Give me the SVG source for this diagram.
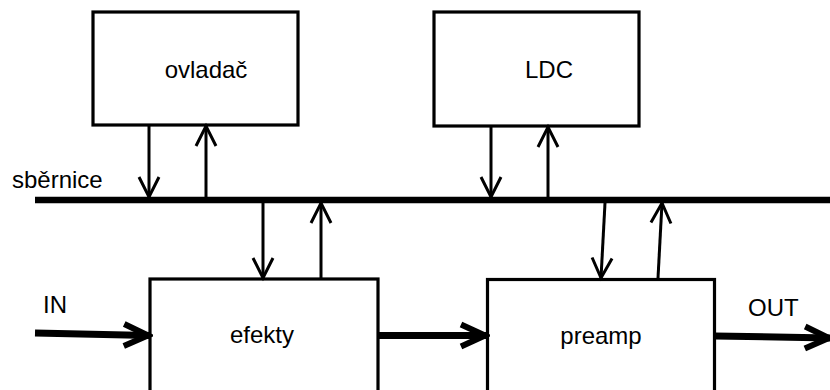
<svg xmlns="http://www.w3.org/2000/svg" width="830" height="390" viewBox="0 0 830 390">
<style>
.box{fill:#fff;stroke:#000;stroke-width:3.2}
.lbl{font-family:"Liberation Sans",Arial,sans-serif;font-size:24px;fill:#000}
.thin{stroke:#000;stroke-width:3;fill:none;marker-end:url(#ah)}
.thick{stroke:#000;stroke-width:7;fill:none;marker-end:url(#ahb)}
.bus{stroke:#000;stroke-width:6.5}
</style>
<defs>
<marker id="ah" markerUnits="userSpaceOnUse" viewBox="-24 -14 28 28" markerWidth="28" markerHeight="28" refX="0" refY="0" orient="auto">
<path d="M-20,-10 L0,0 L-20,10" fill="none" stroke="#000" stroke-width="3"/>
</marker>
<marker id="ahb" markerUnits="userSpaceOnUse" viewBox="-30 -16 34 32" markerWidth="34" markerHeight="32" refX="0" refY="0" orient="auto">
<path d="M-25,-11 L-1,0 L-25,11" fill="none" stroke="#000" stroke-width="6"/>
</marker>
</defs>
<rect width="830" height="390" fill="#fff"/>
<g id="ovladac">
<rect class="box" x="93" y="12" width="205" height="113"/>
<text class="lbl" x="206" y="78" text-anchor="middle">ovladač</text>
</g>
<g id="ldc">
<rect class="box" x="434" y="12" width="205" height="114"/>
<text class="lbl" x="549" y="78" text-anchor="middle">LDC</text>
</g>
<g id="efekty">
<rect class="box" x="150" y="279" width="228" height="130"/>
<text class="lbl" x="262" y="343" text-anchor="middle">efekty</text>
</g>
<g id="preamp">
<rect class="box" x="487.5" y="279.5" width="227" height="130"/>
<text class="lbl" x="601" y="344" text-anchor="middle">preamp</text>
</g>
<g id="bus">
<line class="bus" x1="35" y1="200" x2="830" y2="200"/>
<text class="lbl" x="12" y="188">sběrnice</text>
</g>
<g id="connectors">
<line class="thin" x1="149" y1="125" x2="149" y2="197"/>
<line class="thin" x1="206" y1="197" x2="206" y2="126"/>
<line class="thin" x1="491" y1="126" x2="491" y2="197"/>
<line class="thin" x1="548" y1="197" x2="548" y2="127"/>
<line class="thin" x1="263" y1="203" x2="263" y2="278"/>
<line class="thin" x1="321" y1="278" x2="321" y2="203"/>
<line class="thin" x1="605" y1="203" x2="601" y2="278"/>
<line class="thin" x1="658" y1="278" x2="662" y2="203"/>
<line class="thick" x1="35" y1="333" x2="149" y2="335.5"/>
<line class="thick" x1="378" y1="335.5" x2="486" y2="335.5"/>
<line class="thick" x1="715" y1="336" x2="830" y2="338"/>
<text class="lbl" x="43" y="313">IN</text>
<text class="lbl" x="748" y="316">OUT</text>
</g>
</svg>
